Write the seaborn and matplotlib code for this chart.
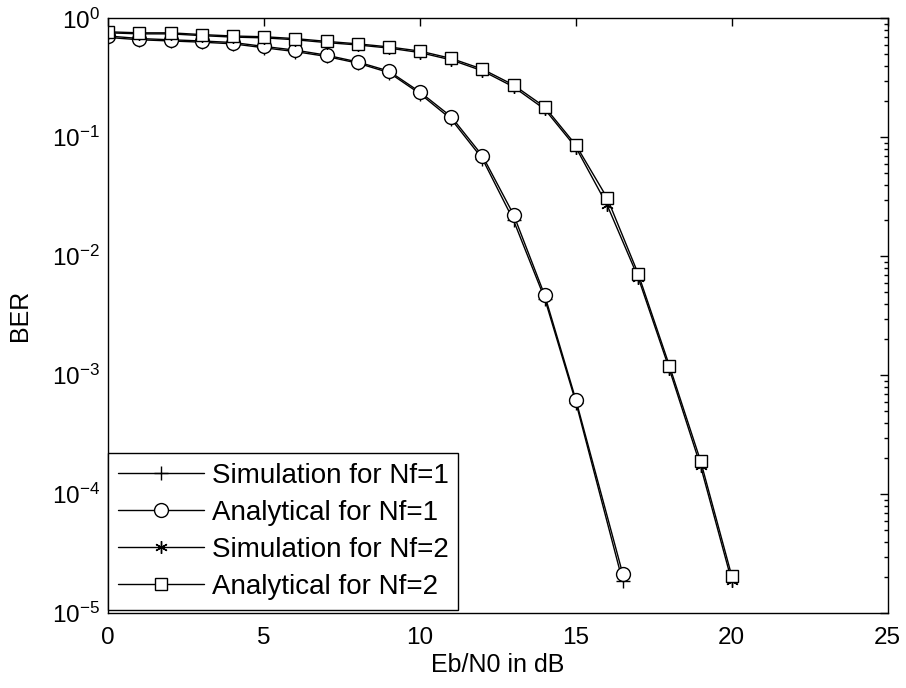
import numpy as np
import pandas as pd
import matplotlib
matplotlib.use("Agg")
import matplotlib.pyplot as plt
import matplotlib.ticker as mticker
import seaborn as sns

# ---- data ----
snr1 = [0, 1, 2, 3, 4, 5, 6, 7, 8, 9, 10, 11, 12, 13, 14, 15, 16.5]
sim1 = [0.69, 0.66, 0.645, 0.63, 0.61, 0.565, 0.525, 0.478, 0.42, 0.35, 0.232, 0.142, 0.066, 0.0200, 0.0044, 5.9e-4, 1.85e-5]
ana1 = [0.71, 0.676, 0.66, 0.645, 0.626, 0.58, 0.54, 0.49, 0.43, 0.36, 0.24, 0.149, 0.070, 0.0224, 0.0047, 6.2e-4, 2.15e-5]

snr2 = list(range(0, 21))
sim2 = [0.755, 0.74, 0.74, 0.715, 0.695, 0.685, 0.66, 0.625, 0.597, 0.562, 0.515, 0.447, 0.362, 0.265, 0.172, 0.082, 0.027, 0.0066, 0.00112, 1.72e-4, 1.85e-5]
ana2 = [0.77, 0.755, 0.755, 0.73, 0.71, 0.70, 0.675, 0.64, 0.61, 0.575, 0.53, 0.46, 0.374, 0.275, 0.18, 0.086, 0.031, 0.0071, 0.0012, 1.9e-4, 2.05e-5]

labels = ["Simulation for Nf=1", "Analytical for Nf=1",
          "Simulation for Nf=2", "Analytical for Nf=2"]
xticks = [0, 5, 10, 15, 20, 25]

# ---- style ----
sns.set_theme(style="white")
plt.rcParams["font.family"] = ["Liberation Sans", "DejaVu Sans"]
plt.rcParams["mathtext.fontset"] = "custom"
plt.rcParams["mathtext.rm"] = "Liberation Sans"
plt.rcParams["mathtext.it"] = "Liberation Sans:italic"
plt.rcParams["axes.linewidth"] = 1.0
plt.rcParams["axes.edgecolor"] = "black"
plt.rcParams["text.color"] = "black"
plt.rcParams["axes.labelcolor"] = "black"
plt.rcParams["xtick.color"] = "black"
plt.rcParams["ytick.color"] = "black"

fig = plt.figure(figsize=(9.06, 6.88), dpi=100)
ax = fig.add_axes([0.1195, 0.1086, 0.8603, 0.8648])

asterisk = (6, 2, 0)
common = dict(color="black", linewidth=1.0, markeredgecolor="black",
              markeredgewidth=1.0, ax=ax, sort=False)

sns.lineplot(x=snr1, y=sim1, marker="+", markersize=10, label=labels[0], **common)
sns.lineplot(x=snr1, y=ana1, marker="o", markersize=10, markerfacecolor="white",
             label=labels[1], **common)
sns.lineplot(x=snr2, y=sim2, marker=asterisk, markersize=9, label=labels[2], **common)
sns.lineplot(x=snr2, y=ana2, marker="s", markersize=8, markerfacecolor="white",
             label=labels[3], **common)

ax.set_yscale("log")
ax.set_xlim(0, 25)
ax.set_ylim(1e-5, 1)
ax.set_xticks(xticks)
ax.set_xticklabels([str(t) for t in xticks])
ax.yaxis.set_major_locator(mticker.LogLocator(base=10, numticks=10))
ax.yaxis.set_minor_locator(mticker.LogLocator(base=10, subs=np.arange(2, 10), numticks=20))
ax.yaxis.set_minor_formatter(mticker.NullFormatter())
ax.xaxis.set_minor_locator(mticker.NullLocator())

ax.tick_params(which="both", direction="in", top=True, right=True,
               colors="black", labelcolor="black", labelsize=17.5, width=1.0)
ax.tick_params(which="major", length=6)
ax.tick_params(axis="x", which="major", pad=10)
ax.tick_params(axis="y", which="major", pad=6)
ax.tick_params(which="minor", length=3)

for s in ax.spines.values():
    s.set_visible(True)
    s.set_color("black")
    s.set_linewidth(1.0)

ax.set_xlabel("Eb/N0 in dB", fontsize=18, labelpad=3, color="black")
ax.set_ylabel("BER", fontsize=18, labelpad=14, color="black")

leg = ax.legend(loc="lower left", bbox_to_anchor=(0, 0.006), borderaxespad=0,
                fancybox=False, edgecolor="black", framealpha=1,
                handlelength=3.1, fontsize=20, labelspacing=0.4,
                handletextpad=0.27, borderpad=0.35, labelcolor="black")
leg.get_frame().set_linewidth(1.0)

fig.savefig("out.png", dpi=100)
